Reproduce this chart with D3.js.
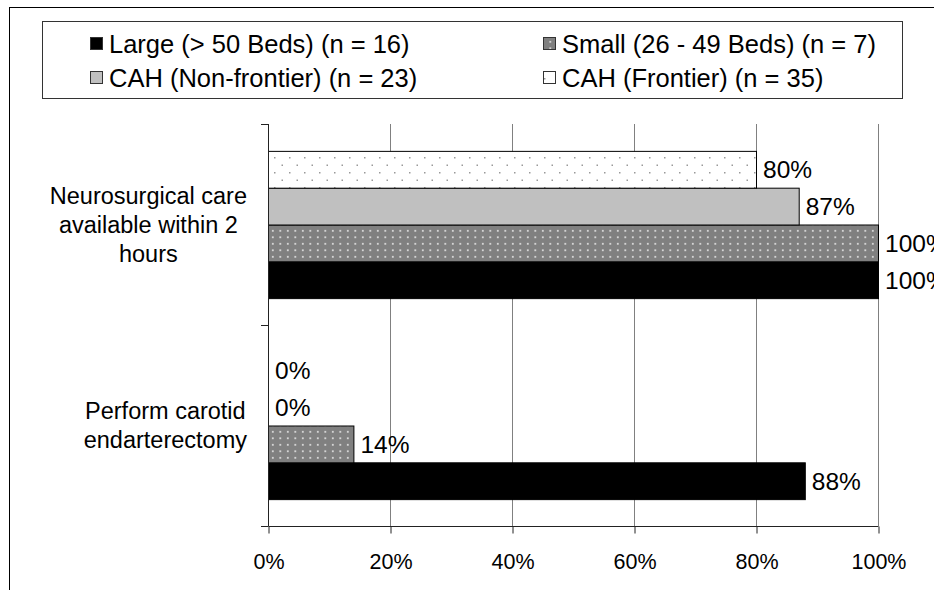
<!DOCTYPE html>
<html>
<head>
<meta charset="utf-8">
<script src="https://cdn.jsdelivr.net/npm/d3@7"></script>
<style>
  body { margin: 0; background: #fff; }
  svg { display: block; font-family: "Liberation Sans", Arial, sans-serif; }
</style>
</head>
<body>
<svg id="chart" width="934" height="590"></svg>
<script>
// data
var categories = ["Neurosurgical care available within 2 hours", "Perform carotid endarterectomy"];
var categoryLines = [["Neurosurgical care", "available within 2", "hours"], ["Perform carotid", "endarterectomy"]];
var seriesNames = ["Large (> 50 Beds) (n = 16)", "Small (26 - 49 Beds) (n = 7)", "CAH (Non-frontier) (n = 23)", "CAH (Frontier) (n = 35)"];
var seriesKeys = ["large", "small", "nonfrontier", "frontier"];
var largeValues = [100, 88];
var smallValues = [100, 14];
var nonFrontierValues = [87, 0];
var frontierValues = [80, 0];
var xTicks = [0, 20, 40, 60, 80, 100];

var valuesByKey = { large: largeValues, small: smallValues, nonfrontier: nonFrontierValues, frontier: frontierValues };
var fills = { large: "#000", small: "url(#patSmall)", nonfrontier: "#c0c0c0", frontier: "url(#patFrontier)" };

var svg = d3.select("#chart");

///patterns
var defs = svg.append("defs");
var pS = defs.append("pattern").attr("id", "patSmall").attr("patternUnits", "userSpaceOnUse")
  .attr("width", 7.5).attr("height", 6.5);
pS.append("rect").attr("width", 7.5).attr("height", 6.5).attr("fill", "#808080");
pS.append("rect").attr("x", 2).attr("y", 2).attr("width", 1.6).attr("height", 1.6).attr("fill", "#f2f2f2");

var pF = defs.append("pattern").attr("id", "patFrontier").attr("patternUnits", "userSpaceOnUse")
  .attr("width", 15).attr("height", 15);
pF.append("rect").attr("width", 15).attr("height", 15).attr("fill", "#fff");
pF.append("rect").attr("x", 4).attr("y", 3).attr("width", 1.5).attr("height", 1.5).attr("fill", "#999");
pF.append("rect").attr("x", 11.5).attr("y", 10.5).attr("width", 1.5).attr("height", 1.5).attr("fill", "#999");

//outer frame (runs off the picture on right/bottom)
svg.append("rect").attr("x", 9.5).attr("y", 7.5).attr("width", 940).attr("height", 600)
  .attr("fill", "none").attr("stroke", "#000");

//legend
var legend = svg.append("g");
legend.append("rect").attr("x", 42.5).attr("y", 21.5).attr("width", 860).attr("height", 77)
  .attr("fill", "#fff").attr("stroke", "#333");
var legendPos = [[90, 37], [543, 37], [90, 71], [543, 71]];
seriesKeys.forEach(function (k, i) {
  var p = legendPos[i];
  legend.append("rect").attr("x", p[0] + 0.5).attr("y", p[1] + 0.5).attr("width", 12).attr("height", 12)
    .attr("fill", fills[k]).attr("stroke", "#333");
  legend.append("text").attr("x", p[0] + 19).attr("y", p[1] + (i < 2 ? 16 : 15.5))
    .attr("font-size", "25.5px").attr("fill", "#000").text(seriesNames[i]);
});

/////scales
var x = d3.scaleLinear().domain([0, 100]).range([268, 878]);
var y = d3.scaleBand().domain(categories).range([124, 526]);
// bars are drawn top to bottom: frontier, non-frontier, small, large
var ySeries = d3.scaleBand().domain(seriesKeys.slice().reverse()).range([0, y.bandwidth()]).paddingOuter(0.73);

var plot = svg.append("g");

//gridlines
plot.selectAll("line.grid").data(xTicks.slice(1)).enter().append("line")
  .attr("x1", function (d) { return x(d) + 0.5; }).attr("x2", function (d) { return x(d) + 0.5; })
  .attr("y1", 124).attr("y2", 526).attr("stroke", "#808080");

//bars
categories.forEach(function (c, ci) {
  var g = plot.append("g").attr("transform", "translate(0," + y(c) + ")");
  seriesKeys.forEach(function (k) {
    var v = valuesByKey[k][ci];
    if (v > 0) {
      g.append("rect").attr("x", x(0) + 0.5).attr("y", ySeries(k) + 0.5)
        .attr("width", x(v) - x(0)).attr("height", ySeries.bandwidth())
        .attr("fill", fills[k]).attr("stroke", "#000");
    }
    g.append("text").attr("x", x(v) + 7).attr("y", ySeries(k) + ySeries.bandwidth() / 2)
      .attr("dy", "0.36em").attr("font-size", "24.5px").attr("fill", "#000").text(v + "%");
  });
});

//x axis
var xAxis = d3.axisBottom(x).tickValues(xTicks).tickSize(7).tickPadding(20)
  .tickFormat(function (d) { return d + "%"; });
var gx = svg.append("g").attr("transform", "translate(0.5,526.5)").call(xAxis);
gx.select(".domain").attr("stroke", "#222").attr("d", "M" + (x(0)) + ",0H" + (x(100)));
gx.selectAll(".tick line").attr("stroke", "#222");
gx.selectAll(".tick text").attr("font-size", "21.5px").attr("fill", "#000")
  .attr("font-family", "Liberation Sans, Arial, sans-serif");

//y axis: line with ticks at band edges
var yEdges = categories.map(function (c) { return y(c); }).concat([y.range()[1]]);
var gy = svg.append("g");
gy.append("line").attr("x1", x(0) + 0.5).attr("x2", x(0) + 0.5).attr("y1", 124).attr("y2", 526).attr("stroke", "#222");
gy.selectAll("line.tick").data(yEdges).enter().append("line")
  .attr("x1", x(0) - 7).attr("x2", x(0) + 0.5)
  .attr("y1", function (d) { return d + 0.5; }).attr("y2", function (d) { return d + 0.5; })
  .attr("stroke", "#222");

//category labels, lines centred on each other, block right edge 21px left of axis
categories.forEach(function (c, ci) {
  var lines = categoryLines[ci];
  var lineH = 29;
  var cy = y(c) + y.bandwidth() / 2;
  var t = svg.append("text").attr("font-size", "23.5px").attr("fill", "#000").attr("text-anchor", "middle");
  lines.forEach(function (s, li) {
    t.append("tspan").attr("y", cy + (li - (lines.length - 1) / 2) * lineH).attr("dy", "0.36em").text(s);
  });
  var maxW = 0;
  t.selectAll("tspan").each(function () { maxW = Math.max(maxW, this.getComputedTextLength()); });
  t.selectAll("tspan").attr("x", x(0) - 21 - maxW / 2);
});
</script>
</body>
</html>
